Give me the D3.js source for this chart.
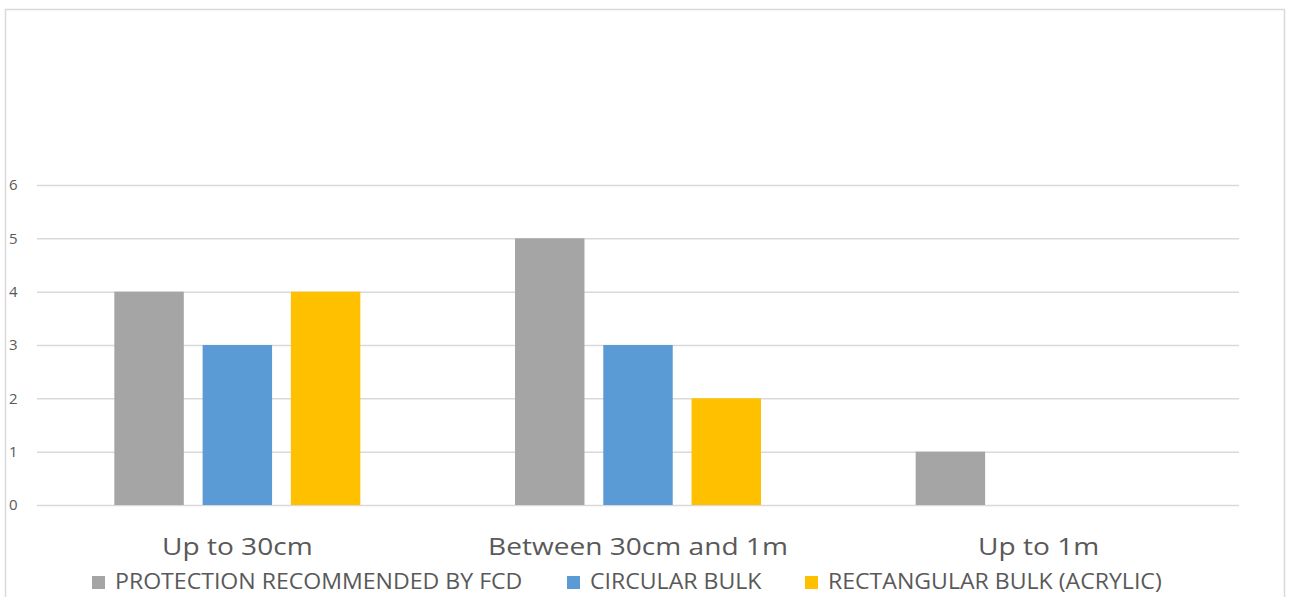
<!DOCTYPE html>
<html>
<head>
<meta charset="utf-8">
<script src="https://cdn.jsdelivr.net/npm/d3@7"></script>
<style>
  html, body { margin: 0; padding: 0; background: #fff; }
  svg { display: block; }
  svg text { font-family: "Open Sans", sans-serif; }
</style>
</head>
<body>
<svg id="chart" width="1289" height="597"></svg>
<script>
// Categories, series and axis ticks
const categories = ["Up to 30cm", "Between 30cm and 1m", "Up to 1m"];
const seriesNames = ["PROTECTION RECOMMENDED BY FCD", "CIRCULAR BULK", "RECTANGULAR BULK (ACRYLIC)"];
const protectionFCD = [4, 5, 1];
const circularBulk = [3, 3, 0];
const rectangularBulk = [4, 2, 0];
const yTicks = [0, 1, 2, 3, 4, 5, 6];
const seriesColors = ["#a5a5a5", "#5b9bd5", "#ffc000"];

const seriesValues = [protectionFCD, circularBulk, rectangularBulk];
const FONT = "'Open Sans', sans-serif";

const svg = d3.select("#chart");

// Outer chart frame
svg.append("rect")
  .attr("x", 5.5).attr("y", 9.5)
  .attr("width", 1279).attr("height", 620)
  .attr("fill", "#fff").attr("stroke", "#d9d9d9").attr("stroke-width", 1.5);

const plot = { left: 37, right: 1239, top: 185, bottom: 505 };

const x0 = d3.scaleBand()
  .domain(categories)
  .range([plot.left, plot.right])
  .paddingInner(0).paddingOuter(0);

// Cluster occupies the middle of each category slot
const clusterFrac = 246 / x0.bandwidth();
const x1 = d3.scaleBand()
  .domain(d3.range(seriesNames.length))
  .range([0, x0.bandwidth() * clusterFrac])
  .paddingInner(0.213).paddingOuter(0);
const clusterOffset = (x0.bandwidth() - x0.bandwidth() * clusterFrac) / 2;

const y = d3.scaleLinear().domain([0, 6]).range([plot.bottom, plot.top]);

// Horizontal gridlines
const yAxis = d3.axisLeft(y)
  .tickValues(yTicks)
  .tickSize(-(plot.right - plot.left))
  .tickFormat(d3.format("d"));

const gy = svg.append("g")
  .attr("transform", `translate(${plot.left},0)`)
  .call(yAxis)
  .attr("font-family", null).attr("font-size", null);
gy.select(".domain").remove();
gy.selectAll(".tick line").attr("stroke", "#d9d9d9").attr("stroke-width", 1.5);
gy.selectAll(".tick text")
  .attr("fill", "#595959")
  .style("font-family", FONT)
  .style("font-size", "15px")
  .attr("text-anchor", "start")
  .attr("x", 9 - plot.left);

// Bars
const groups = svg.append("g").selectAll("g")
  .data(categories)
  .join("g")
  .attr("transform", d => `translate(${x0(d) + clusterOffset},0)`);

groups.selectAll("rect")
  .data((c, i) => seriesValues.map((vals, s) => ({ s, v: vals[i] })))
  .join("rect")
  .filter(d => d.v > 0)
  .attr("x", d => x1(d.s))
  .attr("width", x1.bandwidth())
  .attr("y", d => y(d.v))
  .attr("height", d => y(0) - y(d.v))
  .attr("fill", d => seriesColors[d.s]);

// Category labels (slightly widened lettering)
const xAxis = d3.axisBottom(x0).tickSize(0).tickPadding(0);
const gx = svg.append("g")
  .attr("transform", `translate(0,${plot.bottom})`)
  .call(xAxis)
  .attr("font-family", null).attr("font-size", null);
gx.select(".domain").remove();
gx.selectAll(".tick text")
  .attr("fill", "#595959")
  .attr("dy", 0)
  .attr("y", 50.5)
  .attr("transform", "scale(1.17,1)")
  .style("font-family", FONT)
  .style("font-size", "24px");

// Legend
const legendX = [92, 567, 805];
const legend = svg.append("g").selectAll("g")
  .data(seriesNames)
  .join("g")
  .attr("transform", (d, i) => `translate(${legendX[i]},576)`);
legend.append("rect")
  .attr("width", 13).attr("height", 13)
  .attr("fill", (d, i) => seriesColors[i]);
legend.append("text")
  .attr("transform", "translate(23,12.5) scale(1.1,1)")
  .attr("fill", "#595959")
  .style("font-family", FONT)
  .style("font-size", "21px")
  .text(d => d);
</script>
</body>
</html>
